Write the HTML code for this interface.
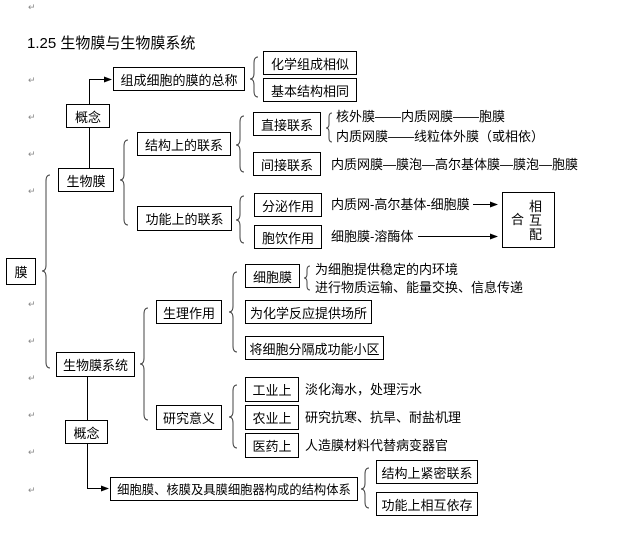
<!DOCTYPE html>
<html><head><meta charset="utf-8"><style>
body{margin:0;background:#fff;width:644px;height:553px;position:relative;overflow:hidden;font-family:"Liberation Sans","Noto Sans CJK SC","WenQuanYi Zen Hei",sans-serif;color:#000}
.b{position:absolute;border:1px solid #000;box-sizing:border-box;font-size:13px;display:flex;align-items:center;justify-content:center;background:#fff;white-space:nowrap}
.t{position:absolute;font-size:13px;white-space:nowrap;line-height:16px}
.r{position:absolute;font-size:9px;color:#888;left:28px}
svg{position:absolute;left:0;top:0}
</style></head><body>
<svg width="644" height="553" fill="none" stroke="#000" stroke-width="1">
<defs><marker id="a" markerWidth="8" markerHeight="8" refX="7" refY="4" orient="auto" markerUnits="userSpaceOnUse"><path d="M0,1 L8,4 L0,7z" fill="#000" stroke="none"/></marker></defs>
<path d="M89.5 104 V79.5 H111" marker-end="url(#a)"/>
<path d="M89.5 128 V168"/>
<path d="M87.5 377 V420"/>
<path d="M87.5 443 V488.5 H108" marker-end="url(#a)"/>
<path d="M473 204.5 H497" marker-end="url(#a)"/>
<path d="M418 236.5 H497" marker-end="url(#a)"/>
<g stroke="#444">
<path d="M258 57 Q254 57 254 63 L254 73 Q254 79 250 79 Q254 79 254 85 L254 91 Q254 97 258 97"/>
<path d="M128 140 Q124 140 124 146 L124 174 Q124 180 120 180 Q124 180 124 186 L124 219 Q124 225 128 225"/>
<path d="M244 116 Q240 116 240 122 L240 139 Q240 145 236 145 Q240 145 240 151 L240 166 Q240 172 244 172"/>
<path d="M332 113 Q329 113 329 117 L329 124 Q329 128 326 128 Q329 128 329 132 L329 138 Q329 142 332 142"/>
<path d="M244 196 Q240 196 240 202 L240 214 Q240 220 236 220 Q240 220 240 226 L240 237 Q240 243 244 243"/>
<path d="M50 175 Q46 175 46 181 L46 265 Q46 271 42 271 Q46 271 46 277 L46 362 Q46 368 50 368"/>
<path d="M148 308 Q144 308 144 314 L144 358 Q144 364 140 364 Q144 364 144 370 L144 414 Q144 420 148 420"/>
<path d="M237 272 Q233 272 233 278 L233 306 Q233 312 229 312 Q233 312 233 318 L233 346 Q233 352 237 352"/>
<path d="M310 266 Q307 266 307 270 L307 274 Q307 278 304 278 Q307 278 307 282 L307 286 Q307 290 310 290"/>
<path d="M237 385 Q233 385 233 391 L233 411 Q233 417 229 417 Q233 417 233 423 L233 442 Q233 448 237 448"/>
<path d="M369 468 Q365 468 365 474 L365 483 Q365 489 361 489 Q365 489 365 495 L365 502 Q365 508 369 508"/>
</g>
</svg>
<div class="t" style="left:27px;top:35px;font-size:15px;line-height:18px">1.25 生物膜与生物膜系统</div>
<div class="b" style="left:113px;top:67px;width:132px;height:24px">组成细胞的膜的总称</div>
<div class="b" style="left:263px;top:51px;width:94px;height:24px">化学组成相似</div>
<div class="b" style="left:263px;top:78px;width:94px;height:24px">基本结构相同</div>
<div class="b" style="left:66px;top:104px;width:44px;height:24px">概念</div>
<div class="b" style="left:58px;top:168px;width:56px;height:24px">生物膜</div>
<div class="b" style="left:137px;top:132px;width:94px;height:24px">结构上的联系</div>
<div class="b" style="left:253px;top:112px;width:68px;height:24px">直接联系</div>
<div class="b" style="left:253px;top:152px;width:68px;height:24px">间接联系</div>
<div class="t" style="left:336px;top:109px">核外膜——内质网膜——胞膜</div>
<div class="t" style="left:336px;top:129px">内质网膜——线粒体外膜（或相依）</div>
<div class="t" style="left:331px;top:157px">内质网膜—膜泡—高尔基体膜—膜泡—胞膜</div>
<div class="b" style="left:137px;top:206px;width:95px;height:25px">功能上的联系</div>
<div class="b" style="left:254px;top:193px;width:68px;height:24px">分泌作用</div>
<div class="b" style="left:254px;top:225px;width:68px;height:24px">胞饮作用</div>
<div class="t" style="left:331px;top:197px">内质网-高尔基体-细胞膜</div>
<div class="t" style="left:331px;top:229px">细胞膜-溶酶体</div>
<div class="b" style="left:502px;top:192px;width:53px;height:56px"></div>
<div class="t" style="left:511px;top:212px">合</div>
<div class="t" style="left:529px;top:200px;line-height:14px">相<br>互<br>配</div>
<div class="b" style="left:6px;top:258px;width:30px;height:27px">膜</div>
<div class="b" style="left:245px;top:264px;width:55px;height:24px">细胞膜</div>
<div class="t" style="left:315px;top:262px">为细胞提供稳定的内环境</div>
<div class="t" style="left:315px;top:280px">进行物质运输、能量交换、信息传递</div>
<div class="b" style="left:156px;top:300px;width:66px;height:24px">生理作用</div>
<div class="b" style="left:245px;top:300px;width:127px;height:24px">为化学反应提供场所</div>
<div class="b" style="left:245px;top:336px;width:139px;height:24px">将细胞分隔成功能小区</div>
<div class="b" style="left:56px;top:352px;width:79px;height:25px">生物膜系统</div>
<div class="b" style="left:245px;top:377px;width:54px;height:25px">工业上</div>
<div class="t" style="left:305px;top:382px">淡化海水，处理污水</div>
<div class="b" style="left:156px;top:405px;width:66px;height:25px">研究意义</div>
<div class="b" style="left:245px;top:405px;width:54px;height:25px">农业上</div>
<div class="t" style="left:305px;top:410px">研究抗寒、抗旱、耐盐机理</div>
<div class="b" style="left:245px;top:433px;width:54px;height:25px">医药上</div>
<div class="t" style="left:305px;top:438px">人造膜材料代替病变器官</div>
<div class="b" style="left:65px;top:420px;width:43px;height:24px">概念</div>
<div class="b" style="left:110px;top:477px;width:248px;height:24px;font-size:12.3px">细胞膜、核膜及具膜细胞器构成的结构体系</div>
<div class="b" style="left:376px;top:460px;width:102px;height:24px">结构上紧密联系</div>
<div class="b" style="left:376px;top:492px;width:102px;height:24px">功能上相互依存</div>
<div class="r" style="top:2px">↵</div>
<div class="r" style="top:75px">↵</div>
<div class="r" style="top:112px">↵</div>
<div class="r" style="top:149px">↵</div>
<div class="r" style="top:186px">↵</div>
<div class="r" style="top:299px">↵</div>
<div class="r" style="top:336px">↵</div>
<div class="r" style="top:373px">↵</div>
<div class="r" style="top:410px">↵</div>
<div class="r" style="top:447px">↵</div>
<div class="r" style="top:485px">↵</div>
</body></html>
